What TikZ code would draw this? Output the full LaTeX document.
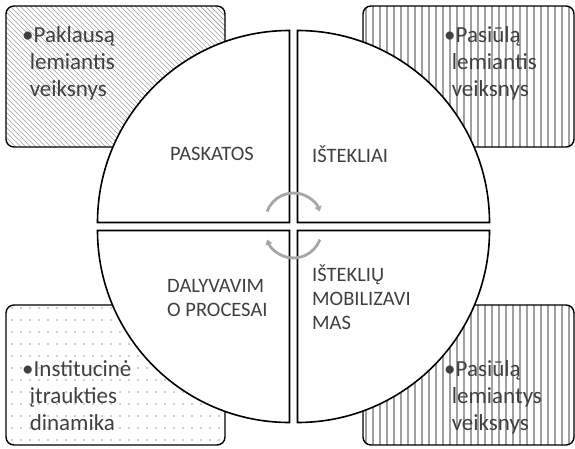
\documentclass[tikz,border=0pt]{standalone}
\usepackage{fontspec}
\setmainfont{Carlito}
\usetikzlibrary{arrows.meta}
\definecolor{txtgrey}{HTML}{404040}
\definecolor{hatchgrey}{HTML}{A0A0A0}
\definecolor{arrowgrey}{HTML}{A6A6A6}

\begin{document}
\begin{tikzpicture}
[x=1pt, y=1pt,
 box/.style={draw=black, line width=1.4pt, rounded corners=8pt},
 quad/.style={draw=black, fill=white, line width=1.6pt},
 lbl/.style={inner sep=0pt, text=txtgrey, font=\fontsize{20.5}{24}\selectfont, align=left},
 item/.style={inner sep=0pt, text=txtgrey, font=\fontsize{23}{27}\selectfont, align=left, anchor=north west},
 turn/.style={draw=arrowgrey, line width=2.8pt, -{Triangle[length=5pt, width=7pt]}}]
\useasboundingbox (0,0) rectangle (575,448);
% corner boxes
\begin{scope}
\clip [rounded corners=8pt] (6,301) rectangle (225,442);
\foreach \i in {-140,-135,...,225} \draw [hatchgrey, line width=0.7pt] (\i,442) -- (\i+141,301);
\end{scope}
\begin{scope}
\clip [rounded corners=8pt] (363,301) rectangle (574,442);
\foreach \i in {366,373,...,574} \draw [hatchgrey, line width=1.1pt] (\i,301) -- (\i,442);
\end{scope}
\begin{scope}
\clip [rounded corners=8pt] (6,3) rectangle (225,143);
\foreach \i in {12,21,...,225} \foreach \j in {8,20,...,143} \fill [hatchgrey] (\i,\j) circle (0.9pt);
\end{scope}
\begin{scope}
\clip [rounded corners=8pt] (363,3) rectangle (574,143);
\foreach \i in {366,373,...,574} \draw [hatchgrey, line width=1.1pt] (\i,3) -- (\i,143);
\end{scope}
\draw [box] (6,301) rectangle (225,442);
\draw [box] (363,301) rectangle (574,442);
\draw [box] (6,3) rectangle (225,143);
\draw [box] (363,3) rectangle (574,143);
% quadrants
\coordinate (tl) at (289.5,225.5);
\coordinate (tr) at (297.5,225.5);
\coordinate (bl) at (289.5,217.5);
\coordinate (br) at (297.5,217.5);
\draw [quad] (tl) -- ++(-192,0) arc [start angle=180, end angle=90, radius=192] -- cycle;
\draw [quad] (tr) -- ++(0,192) arc [start angle=90, end angle=0, radius=192] -- cycle;
\draw [quad] (bl) -- ++(0,-192) arc [start angle=270, end angle=180, radius=192] -- cycle;
\draw [quad] (br) -- ++(192,0) arc [start angle=0, end angle=-90, radius=192] -- cycle;
% labels
\node (paskatos) [lbl] at (212,294) {PASKATOS};
\node (istekliai) [lbl, anchor=west] at (312,294) {IŠTEKLIAI};
\node (dalyvavimo) [lbl, anchor=west] at (167,150) {DALYVAVIM\\O PROCESAI};
\node (mobilizavimas) [lbl, anchor=west] at (312,151) {IŠTEKLIŲ\\MOBILIZAVI\\MAS};
\node (paklausa) [item] at (22,422) {\textbullet Paklausą\\\hspace*{0.33em}lemiantis\\\hspace*{0.33em}veiksnys};
\node (pasiula) [item] at (444,422) {\textbullet Pasiūlą\\\hspace*{0.33em}lemiantis\\\hspace*{0.33em}veiksnys};
\node (institucine) [item] at (22,88) {\textbullet Institucinė\\\hspace*{0.33em}įtraukties\\\hspace*{0.33em}dinamika};
\node (pasiulab) [item] at (444,88) {\textbullet Pasiūlą\\\hspace*{0.33em}lemiantys\\\hspace*{0.33em}veiksnys};
% cycle arrows
\coordinate (up) at (293.5,227);
\coordinate (down) at (293.5,218);
\draw [turn] (up) ++(160:28) arc [start angle=160, end angle=20, radius=28];
\draw [turn] (down) ++(-20:28) arc [start angle=-20, end angle=-160, radius=28];
\end{tikzpicture}
\end{document}
